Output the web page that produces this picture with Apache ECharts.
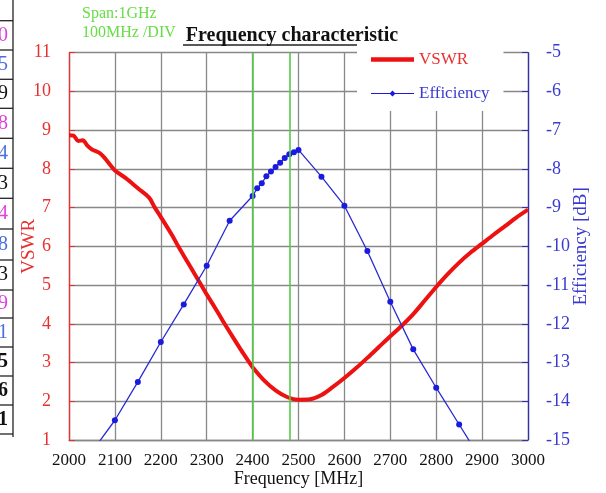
<!DOCTYPE html>
<html>
<head>
<meta charset="utf-8">
<script src="https://cdn.jsdelivr.net/npm/echarts@6/dist/echarts.min.js"></script>
<style>
html,body{margin:0;padding:0;background:#fff;}
#c{width:606px;height:493px;}
</style>
</head>
<body>
<div id="c"></div>
<script>
// ---- data ----
const vswrFreq = [2000,2010,2020,2030,2040,2050,2060,2070,2080,2090,2100,2125,2150,2175,2187,2200,2225,2238,2250,2275,2288,2300,2325,2339,2350,2375,2393,2400,2425,2450,2475,2500,2525,2550,2575,2600,2625,2650,2675,2700,2725,2750,2775,2800,2825,2850,2875,2900,2925,2950,2975,3000];
const vswrValues = [8.87,8.86,8.72,8.74,8.6,8.5,8.45,8.38,8.25,8.1,7.96,7.75,7.5,7.25,7.0,6.76,6.28,6.0,5.76,5.26,5.0,4.76,4.28,4.0,3.79,3.32,3.0,2.88,2.54,2.28,2.11,2.04,2.05,2.16,2.37,2.6,2.85,3.12,3.4,3.68,3.95,4.25,4.6,4.95,5.28,5.58,5.84,6.07,6.3,6.52,6.75,6.95];
const effFreq = [2050,2100,2150,2200,2250,2300,2350,2400,2410,2420,2430,2440,2450,2460,2470,2480,2490,2500,2550,2600,2650,2700,2750,2800,2850,2900];
const effValues = [-15.3,-14.49,-13.5,-12.47,-11.5,-10.5,-9.34,-8.7,-8.5,-8.37,-8.19,-8.07,-7.95,-7.84,-7.72,-7.62,-7.57,-7.51,-8.2,-8.95,-10.12,-11.43,-12.66,-13.65,-14.6,-15.55];
const bandEdges = [2400, 2480];
const tableDigits = ['0','5','9','8','4','3','4','8','3','9','1','5','6','1'];
const tableColors = ['#e040e0','#4a6fe0','#111','#e040e0','#4a6fe0','#111','#e040e0','#4a6fe0','#111','#e040e0','#4a6fe0','#111','#111','#111'];
const tableRows = [20.7,50,79.3,108.3,138.3,168.3,198.3,229,260,290,318,347,376,405,434];

const serif = '"Liberation Serif","DejaVu Serif",serif';
const chart = echarts.init(document.getElementById('c'), null, {renderer:'canvas'});

const graphics = [];
graphics.push({type:'line', shape:{x1:13,y1:0,x2:13,y2:437}, style:{stroke:'#222',lineWidth:1.3}, silent:true});
tableRows.forEach(function(y){
  graphics.push({type:'line', shape:{x1:0,y1:y,x2:13,y2:y}, style:{stroke:'#222',lineWidth:1.3}, silent:true});
});
tableDigits.forEach(function(d,i){
  const yc = (tableRows[i]+tableRows[i+1])/2;
  graphics.push({type:'text', x:8, y:yc, style:{text:d, fill:tableColors[i], font:(i>=11?'bold ':'')+'20px '+serif, textAlign:'right', textVerticalAlign:'middle'}, silent:true});
});
graphics.push({type:'text', x:82, y:14, style:{text:'Span:1GHz', fill:'#66dd44', font:'16px '+serif, textVerticalAlign:'middle'}, silent:true});
graphics.push({type:'text', x:82, y:33, style:{text:'100MHz /DIV', fill:'#66dd44', font:'16px '+serif, textVerticalAlign:'middle'}, silent:true});
graphics.push({type:'text', x:292, y:36, z:10, style:{text:'Frequency characteristic', fill:'#111', font:'bold 20px '+serif, textAlign:'center', textVerticalAlign:'middle'}, silent:true});
graphics.push({type:'line', shape:{x1:183,y1:45,x2:358,y2:45}, style:{stroke:'#222',lineWidth:1.3}, silent:true});

chart.setOption({
  backgroundColor:'#fff',
  animation:false,
  grid:{left:69, right:78, top:52.7, bottom:53, containLabel:false, outerBoundsMode:'none'},
  legend:{
    data:[
      {name:'VSWR', icon:'path://M0,0L43,0L43,4.5L0,4.5Z', textStyle:{color:'#e83030'}},
      {name:'Efficiency', icon:'path://M0,3.4L43,3.4L43,4.6L0,4.6Z M21.5,1L24.5,4L21.5,7L18.5,4Z', textStyle:{color:'#3a3ad0'}}
    ],
    orient:'vertical', left:357, top:40,
    backgroundColor:'#fff',
    padding:[11,14,9,14],
    itemWidth:43, itemHeight:14, itemGap:17,
    textStyle:{fontFamily:serif, fontSize:17},
    selectedMode:false
  },
  xAxis:{
    type:'value', min:2000, max:3000, interval:100,
    name:'Frequency [MHz]', nameLocation:'middle', nameGap:30, nameMoveOverlap:false,
    nameTextStyle:{fontFamily:serif, fontSize:18, color:'#111'},
    axisLine:{lineStyle:{color:'#888', width:1.3}},
    axisTick:{show:false},
    axisLabel:{fontFamily:serif, fontSize:17, color:'#111', margin:12, formatter:function(v){return String(v);}},
    splitLine:{show:true, lineStyle:{color:'#888', width:1.3}}
  },
  yAxis:[{
    type:'value', min:1, max:11, interval:1, position:'left',
    name:'VSWR', nameLocation:'middle', nameGap:30, nameRotate:90, nameMoveOverlap:false,
    nameTextStyle:{fontFamily:serif, fontSize:19, color:'#e83030'},
    axisLine:{show:true, lineStyle:{color:'#e83030', width:1.3}},
    axisTick:{show:true, inside:true, length:6, lineStyle:{color:'#e83030'}},
    axisLabel:{fontFamily:serif, fontSize:18, color:'#e83030', margin:18},
    splitLine:{show:true, lineStyle:{color:'#888', width:1.3}}
  },{
    type:'value', min:-15, max:-5, interval:1, position:'right',
    name:'Efficiency [dB]', nameLocation:'middle', nameGap:44, nameRotate:90, nameMoveOverlap:false,
    nameTextStyle:{fontFamily:serif, fontSize:19, color:'#3a3ad0'},
    axisLine:{show:true, lineStyle:{color:'#3030b0', width:1.3}},
    axisTick:{show:true, inside:true, length:6, lineStyle:{color:'#3030b0'}},
    axisLabel:{fontFamily:serif, fontSize:18, color:'#3a3ad0', margin:18},
    splitLine:{show:false}
  }],
  graphic:graphics,
  series:[{
    name:'band', type:'line', data:[], z:1, silent:true,
    markLine:{
      silent:true, symbol:['none','none'], label:{show:false},
      lineStyle:{color:'#55cc44', width:1.6, type:'solid'},
      data: bandEdges.map(function(f){return {xAxis:f};})
    }
  },{
    name:'VSWR', type:'line', yAxisIndex:0, z:3,
    data: vswrFreq.map(function(f,i){return [f, vswrValues[i]];}),
    symbol:'none', smooth:0.3,
    lineStyle:{color:'#ee1111', width:4},
    itemStyle:{color:'#ee1111'}
  },{
    name:'Efficiency', type:'line', yAxisIndex:1, z:4,
    data: effFreq.map(function(f,i){return [f, effValues[i]];}),
    symbol:'circle', symbolSize:6, showAllSymbol:true,
    lineStyle:{color:'#2a2ad0', width:1.3},
    itemStyle:{color:'#1a1ae0'}
  }]
});
</script>
</body>
</html>
